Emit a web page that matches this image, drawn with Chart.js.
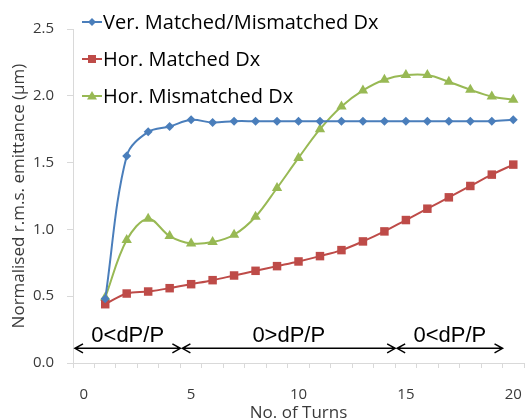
<!DOCTYPE html>
<html>
<head>
<meta charset="utf-8">
<script src="https://cdn.jsdelivr.net/npm/chart.js@4"></script>
<style>
  html, body { margin: 0; padding: 0; background: #fff; overflow: hidden; }
  #wrap { width: 540px; height: 418px; }
</style>
</head>
<body>
<div id="wrap"><canvas id="emitChart"></canvas></div>
<script>
// turns 0..20, series start at turn 1
const turns = ['0','1','2','3','4','5','6','7','8','9','10','11','12','13','14','15','16','17','18','19','20'];

const verMatched = [null, 0.48, 1.55, 1.73, 1.77, 1.82, 1.80, 1.81, 1.81, 1.81, 1.81, 1.81, 1.81, 1.81, 1.81, 1.81, 1.81, 1.81, 1.81, 1.81, 1.82];
const horMatched = [null, 0.44, 0.52, 0.535, 0.56, 0.59, 0.62, 0.655, 0.69, 0.725, 0.76, 0.80, 0.845, 0.91, 0.985, 1.07, 1.155, 1.24, 1.325, 1.41, 1.485];
const horMismatched = [null, 0.49, 0.92, 1.08, 0.95, 0.895, 0.905, 0.96, 1.095, 1.31, 1.535, 1.75, 1.92, 2.04, 2.12, 2.155, 2.155, 2.105, 2.045, 1.995, 1.97];

const seriesNames = ['Ver. Matched/Mismatched Dx', 'Hor. Matched Dx', 'Hor. Mismatched Dx'];
const seriesColors = ['#4A7EBB', '#BE4B48', '#98B954'];
const seriesMarkers = ['rectRot', 'rect', 'triangle'];

// dP/P regions: from / to (in turns, at category edges) and label
const regionFrom = [-0.5, 4.5, 14.5];
const regionTo = [4.5, 14.5, 19.5];
const regionLabels = ['0<dP/P', '0>dP/P', '0<dP/P'];

const axisGray = '#D9D9D9';
const tickColor = '#3A3A3A';

// x pixel of a (possibly fractional) category position
function catPixel(xs, v) {
    const step = xs.getPixelForValue(1) - xs.getPixelForValue(0);
    return xs.getPixelForValue(0) + v * step;
}

// draws the region arrows and labels above the x axis
const regionPlugin = {
    id: 'regions',
    afterDatasetsDraw(chart) {
        const ctx = chart.ctx;
        const xs = chart.scales.x, ys = chart.scales.y;
        const yLine = ys.getPixelForValue(0.11);
        const yText = ys.getPixelForValue(0.16);
        ctx.save();
        ctx.strokeStyle = '#000';
        ctx.fillStyle = '#000';
        ctx.lineWidth = 1.5;
        ctx.font = '22px "Liberation Sans", Arial, sans-serif';
        ctx.textAlign = 'center';
        ctx.textBaseline = 'alphabetic';
        for (let i = 0; i < regionLabels.length; i++) {
            const x1 = catPixel(xs, regionFrom[i]) + 2;
            const x2 = catPixel(xs, regionTo[i]);
            ctx.beginPath();
            ctx.moveTo(x1, yLine);
            ctx.lineTo(x2, yLine);
            // arrow heads
            ctx.moveTo(x1 + 8, yLine - 4.5);
            ctx.lineTo(x1, yLine);
            ctx.lineTo(x1 + 8, yLine + 4.5);
            ctx.moveTo(x2 - 8, yLine - 4.5);
            ctx.lineTo(x2, yLine);
            ctx.lineTo(x2 - 8, yLine + 4.5);
            ctx.stroke();
            ctx.fillText(regionLabels[i], (x1 + x2) / 2, yText);
        }
        ctx.restore();
    }
};

function drawMarker(ctx, kind, x, y) {
    ctx.beginPath();
    if (kind === 'rectRot') {
        ctx.moveTo(x, y - 4); ctx.lineTo(x + 4, y); ctx.lineTo(x, y + 4); ctx.lineTo(x - 4, y);
    } else if (kind === 'rect') {
        ctx.rect(x - 4, y - 4, 8, 8);
    } else {
        ctx.moveTo(x, y - 5); ctx.lineTo(x + 5, y + 3.5); ctx.lineTo(x - 5, y + 3.5);
    }
    ctx.closePath();
    ctx.fill();
}

// legend drawn inside the plot, top-left like the original
const legendPlugin = {
    id: 'innerLegend',
    afterDraw(chart) {
        const ctx = chart.ctx;
        ctx.save();
        ctx.font = '20px "Open Sans", sans-serif';
        ctx.textBaseline = 'middle';
        ctx.textAlign = 'left';
        for (let i = 0; i < seriesNames.length; i++) {
            const y = 22 + i * 37;
            ctx.strokeStyle = seriesColors[i];
            ctx.fillStyle = seriesColors[i];
            ctx.lineWidth = 2;
            ctx.beginPath();
            ctx.moveTo(82, y);
            ctx.lineTo(102, y);
            ctx.stroke();
            drawMarker(ctx, seriesMarkers[i], 92, y);
            ctx.fillStyle = '#000';
            ctx.fillText(seriesNames[i], 103, y + 1);
        }
        ctx.restore();
    }
};

function makeSet(i, data, radius) {
    return {
        label: seriesNames[i],
        data: data,
        borderColor: seriesColors[i],
        backgroundColor: seriesColors[i],
        borderWidth: 2,
        pointStyle: seriesMarkers[i],
        pointRadius: radius,
        pointHoverRadius: radius,
        pointBorderWidth: 0,
        tension: 0.35,
        fill: false
    };
}

new Chart(document.getElementById('emitChart'), {
    type: 'line',
    data: {
        labels: turns,
        datasets: [
            makeSet(0, verMatched, 4.5),
            makeSet(1, horMatched, 6),
            makeSet(2, horMismatched, 6)
        ]
    },
    options: {
        responsive: true,
        maintainAspectRatio: false,
        animation: false,
        layout: { padding: { top: 29, right: 5, left: 0, bottom: 0 } },
        plugins: {
            legend: { display: false },
            tooltip: { enabled: false }
        },
        scales: {
            x: {
                type: 'category',
                offset: true,
                afterFit(scale) { scale.height = 55; },
                grid: {
                    offset: true,
                    drawOnChartArea: false,
                    drawTicks: true,
                    tickLength: 5,
                    color: axisGray
                },
                border: { color: axisGray, width: 1 },
                ticks: {
                    autoSkip: false,
                    maxRotation: 0,
                    padding: 18,
                    color: tickColor,
                    font: { family: '"Open Sans", sans-serif', size: 15 },
                    callback: function (value, index) {
                        return index % 5 === 0 ? turns[index] : '';
                    }
                },
                title: {
                    display: true,
                    text: 'No. of Turns',
                    color: tickColor,
                    font: { family: '"Open Sans", sans-serif', size: 17 },
                    padding: { top: 0, bottom: -5 }
                }
            },
            y: {
                min: 0,
                max: 2.5,
                afterFit(scale) { scale.width = 73; },
                grid: {
                    drawOnChartArea: false,
                    drawTicks: true,
                    tickLength: 6,
                    color: axisGray
                },
                border: { color: axisGray, width: 1 },
                ticks: {
                    stepSize: 0.5,
                    padding: 13,
                    color: tickColor,
                    font: { family: '"Open Sans", sans-serif', size: 15 },
                    callback: function (value) { return value.toFixed(1); }
                },
                title: {
                    display: true,
                    text: 'Normalised r.m.s. emittance (µm)',
                    color: tickColor,
                    font: { family: '"Open Sans", sans-serif', size: 17 },
                    padding: { top: 9, bottom: 0 }
                }
            }
        }
    },
    plugins: [regionPlugin, legendPlugin]
});
</script>
</body>
</html>
